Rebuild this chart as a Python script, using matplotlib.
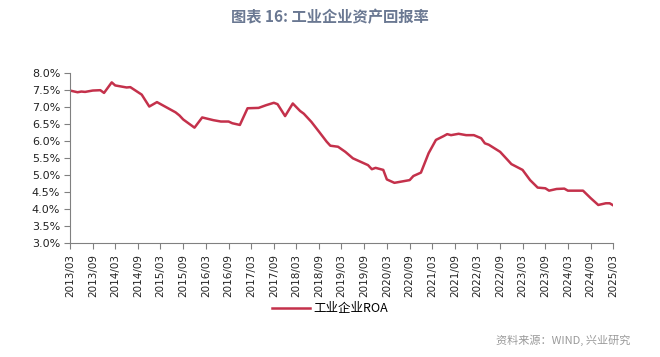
import matplotlib
matplotlib.use("Agg")
import matplotlib.pyplot as plt
import matplotlib.dates as mdates
from matplotlib.ticker import FuncFormatter
import pandas as pd

plt.rcParams['font.family'] = ['Noto Sans CJK SC', 'DejaVu Sans']

# data (ROA, %)
months = ['2013-03', '2013-05', '2013-06', '2013-07', '2013-09', '2013-11', '2013-12',
          '2014-02', '2014-03', '2014-06', '2014-07', '2014-10', '2014-12',
          '2015-02', '2015-07', '2015-08', '2015-09', '2015-12',
          '2016-02', '2016-05', '2016-07', '2016-09', '2016-10', '2016-12',
          '2017-02', '2017-05', '2017-07', '2017-09', '2017-10', '2017-12',
          '2018-02', '2018-04', '2018-05', '2018-07', '2018-09', '2018-11', '2018-12',
          '2019-02', '2019-04', '2019-06', '2019-08', '2019-10', '2019-11', '2019-12',
          '2020-02', '2020-03', '2020-05', '2020-08', '2020-09', '2020-10', '2020-12',
          '2021-02', '2021-04', '2021-06', '2021-07', '2021-08', '2021-10', '2021-12',
          '2022-02', '2022-04', '2022-05', '2022-06', '2022-09', '2022-11', '2022-12',
          '2023-03', '2023-05', '2023-07', '2023-09', '2023-10', '2023-12',
          '2024-02', '2024-03', '2024-07', '2024-09', '2024-11',
          '2025-01', '2025-02', '2025-03']
roa = [7.48, 7.43, 7.45, 7.44, 7.48, 7.49, 7.41,
       7.72, 7.63, 7.57, 7.58, 7.36, 7.01,
       7.14, 6.84, 6.75, 6.63, 6.39,
       6.69, 6.61, 6.57, 6.57, 6.52, 6.47,
       6.96, 6.97, 7.05, 7.12, 7.08, 6.73,
       7.10, 6.88, 6.80, 6.56, 6.27, 5.98, 5.86,
       5.83, 5.68, 5.49, 5.39, 5.29, 5.17, 5.21,
       5.15, 4.87, 4.77, 4.83, 4.85, 4.97, 5.07,
       5.64, 6.03, 6.14, 6.20, 6.17, 6.21, 6.17,
       6.17, 6.08, 5.93, 5.89, 5.68, 5.44, 5.32,
       5.15, 4.85, 4.63, 4.61, 4.54, 4.59,
       4.60, 4.54, 4.54, 4.32, 4.12,
       4.17, 4.17, 4.11]
series_name = '工业企业ROA'

dates = pd.to_datetime(months, format='%Y-%m')
tick_dates = pd.date_range('2013-03-01', '2025-03-01', freq='6MS')

fig = plt.figure(figsize=(6.6, 3.57), dpi=100)
ax = fig.add_axes([0.106, 0.319, 0.823, 0.477])

line_color = '#C4314B'
ax.plot(dates, roa, color=line_color, lw=1.8, label=series_name)

ax.set_xlim(pd.Timestamp('2013-03-01'), pd.Timestamp('2025-03-01'))
ax.set_ylim(3.0, 8.0)
ax.set_yticks([3.0 + 0.5 * i for i in range(11)])
ax.yaxis.set_major_formatter(FuncFormatter(lambda v, p: f'{v:.1f}%'))
ax.set_xticks(tick_dates)
ax.xaxis.set_major_formatter(mdates.DateFormatter('%Y/%m'))

for s in ['top', 'right']:
    ax.spines[s].set_visible(False)
for s in ['left', 'bottom']:
    ax.spines[s].set_color('#808080')
    ax.spines[s].set_linewidth(0.8)
ax.tick_params(axis='both', color='#808080', length=4, width=0.8, labelcolor='#222222')
ax.tick_params(axis='y', labelsize=8, pad=3)
ax.tick_params(axis='x', labelsize=7.5, rotation=90, pad=4)
for lab in ax.get_xticklabels():
    lab.set_family('DejaVu Sans')
for lab in ax.get_yticklabels():
    lab.set_family('DejaVu Sans')

fig.text(0.5, 0.952, '图表 16: 工业企业资产回报率', ha='center', va='center',
         fontsize=11, fontweight='bold', color='#6A7892')

fig.legend(loc='center', bbox_to_anchor=(0.5, 0.135), frameon=False, fontsize=9,
           handlelength=3.0, handletextpad=0.3)

fig.text(0.955, 0.048, '资料来源：WIND, 兴业研究', ha='right', va='center',
         fontsize=8, color='#9A9A9A')

fig.savefig('out.png', dpi=100)
